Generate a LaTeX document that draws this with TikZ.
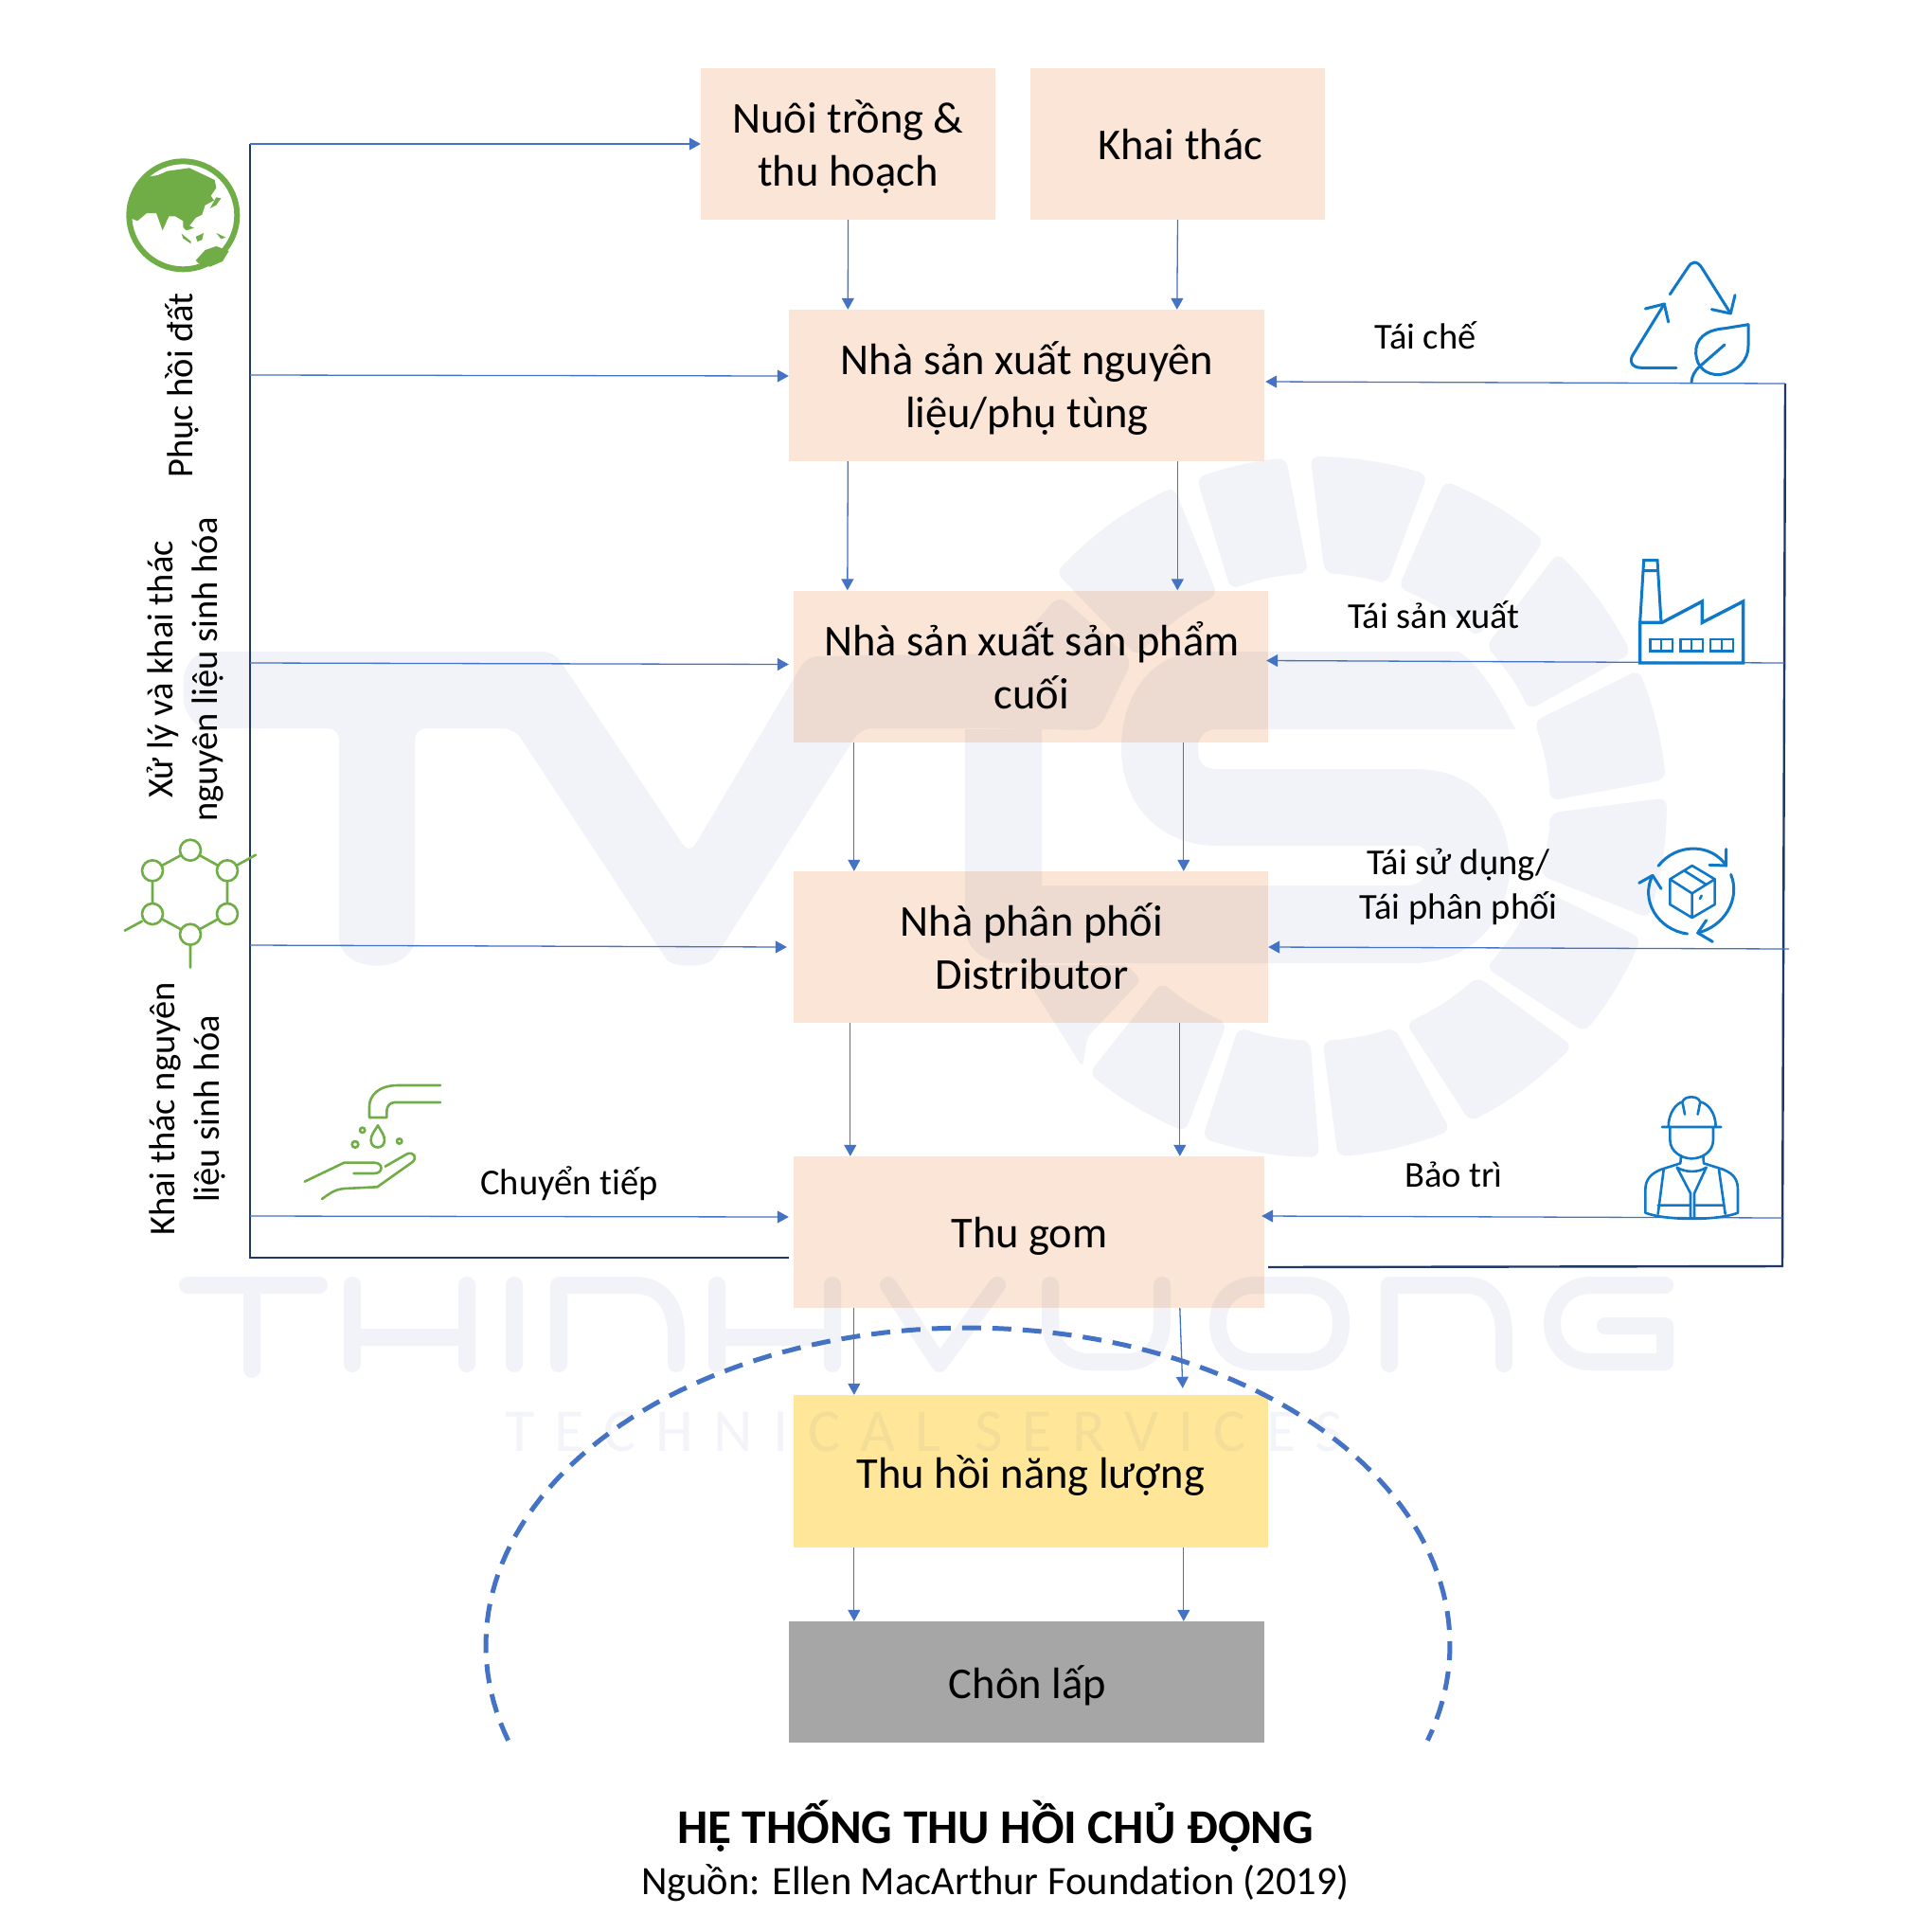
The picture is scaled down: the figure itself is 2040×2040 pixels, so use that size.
\documentclass[tikz,border=0pt]{standalone}
\usepackage{fontspec}
\setmainfont[Ligatures=NoCommon]{Carlito}
\newfontfamily\wmfont[LetterSpace=33,Ligatures=NoCommon]{Carlito}
\usetikzlibrary{arrows.meta,calc}
\definecolor{peach}{HTML}{FBE5D6}
\definecolor{sun}{HTML}{FFE699}
\definecolor{ash}{HTML}{A6A6A6}
\definecolor{flowblue}{HTML}{4472C4}
\definecolor{navy}{HTML}{1F3864}
\definecolor{leaf}{HTML}{70AD47}
\definecolor{iconblue}{HTML}{0F78C8}
\definecolor{wm}{RGB}{22,55,138}
\tikzset{
  x=1pt,y=-1pt,
  stagebox/.style={draw=none,fill=peach,inner sep=0pt},
  stagetext/.style={inner sep=0pt,align=center,font=\fontsize{46.5}{56}\selectfont},
  note/.style={inner sep=0pt,align=center,font=\fontsize{38.5}{47}\selectfont},
  flow/.style={draw=flowblue,line width=1.3pt,-{Triangle[length=12pt,width=13pt]}},
  rim/.style={draw=navy,line width=2.4pt,line join=miter},
  wmfill/.style={fill=wm,fill opacity=.06,rounded corners=12pt},
  wmline/.style={draw=wm,draw opacity=.06,line width=18pt,line cap=round,line join=round},
  greenicon/.style={draw=leaf,line width=2.6pt,line cap=round,line join=round},
  blueicon/.style={draw=iconblue,line width=3pt,line cap=round,line join=round},
  zoomA/.style={shift={(100,140)},x=.33333pt,y=-.33333pt},
  zoomB/.style={shift={(100,860)},x=.33333pt,y=-.33333pt},
  zoomC/.style={shift={(1680,250)},x=.33333pt,y=-.33333pt},
  zoomD/.style={shift={(1680,860)},x=.33333pt,y=-.33333pt},
}
% ring blade: inner angles #1,#2 and outer angles #3,#4, clockwise on the page
\newcommand\ringblade[4]{\fill[wm,fill opacity=.06,rounded corners=9pt]
  plot[domain=#1:#2,samples=7] ({1390+247*cos(\x)},{852+247*sin(\x)})
  -- plot[domain=#4:#3,samples=7] ({1390+370*cos(\x)},{852+370*sin(\x)}) -- cycle;}
\begin{document}
\begin{tikzpicture}
\useasboundingbox (0,0) rectangle (2040,2040);
\fill[white] (0,0) rectangle (2040,2040);

% boxes
\node[stagebox,minimum width=311pt,minimum height=160pt] (nuoi) at (895.5,152) {};
\node[stagebox,minimum width=311pt,minimum height=160pt] (khai) at (1243.5,152) {};
\node[stagebox,minimum width=502pt,minimum height=160pt] (nl) at (1084,407) {};
\node[stagebox,minimum width=501pt,minimum height=160pt] (sp) at (1088.5,703.5) {};
\node[stagebox,minimum width=501pt,minimum height=160pt] (pp) at (1088.5,1000) {};
\node[stagebox,minimum width=497pt,minimum height=160pt] (thu) at (1086.5,1301) {};
\node[stagebox,fill=sun,minimum width=501pt,minimum height=161pt] (nang) at (1088.5,1553.5) {};
\node[stagebox,fill=ash,minimum width=502pt,minimum height=128pt] (chon) at (1084,1776) {};

% watermark: T V T
\fill[wmfill] (232,769) .. controls (205,769) and (194,750) .. (194,728) .. controls (194,705) and (205,688) .. (232,688)
  -- (585,688) -- (728,902) -- (852,693) -- (1066,690)
  -- (1118,628) -- (1196,697) -- (1160,771) -- (1019,769)
  -- (909,769) -- (760,1003) .. controls (746,1022) and (710,1022) .. (697,1003) -- (543,769) -- (438,769)
  -- (438,977) .. controls (438,1030) and (358,1030) .. (358,977) -- (358,769) -- cycle;
% watermark: S and L
\fill[wm,fill opacity=.06] (1019,770) -- (1019,975) .. controls (1019,1005) and (1040,1017) .. (1070,1017)
  -- (1490,1017) .. controls (1560,1017) and (1594,965) .. (1594,915)
  .. controls (1594,860) and (1560,812) .. (1495,812) -- (1285,812)
  .. controls (1270,812) and (1265,805) .. (1265,790) .. controls (1265,778) and (1272,770) .. (1285,770)
  -- (1600,770) .. controls (1580,730) and (1560,700) .. (1540,688) -- (1270,688)
  .. controls (1215,688) and (1184,735) .. (1184,790) .. controls (1184,850) and (1225,893) .. (1285,893)
  -- (1495,893) .. controls (1510,893) and (1512,915) .. (1505,925) .. controls (1500,932) and (1495,935) .. (1480,935)
  -- (1100,935) -- (1100,770) -- cycle;
% watermark: ring of blades
\ringblade{-140}{-115}{-138}{-114}
\ringblade{-111.5}{-92}{-110}{-95}
\ringblade{-88}{-72.5}{-91}{-71.5}
\ringblade{-69.5}{-46.5}{-68.5}{-49.5}
\ringblade{-43.5}{-24.5}{-46.5}{-26}
\ringblade{-21.5}{-1.5}{-23}{-4.5}
\ringblade{1.5}{17}{-1.5}{18.5}
\ringblade{20}{43.5}{22}{40}
\ringblade{46.5}{67.5}{43}{64}
\ringblade{70.5}{88.5}{67.5}{86.5}
\ringblade{91.5}{109.5}{89.5}{109}
\ringblade{112.5}{131.5}{112}{130.5}
\fill[wmfill,rounded corners=6pt] (1075,1019) -- (1143,1127) -- (1148,1095) -- (1205,1035) -- (1190,1019) -- cycle;
% watermark: wordmark strokes
\draw[wmline] (198,1357) -- (337,1357) (266,1357) -- (266,1446)
  (372,1357) -- (372,1440) (493,1357) -- (493,1440) (372,1412) -- (493,1412)
  (543,1357) -- (543,1440)
  (590,1440) -- (590,1357) -- (670,1357) .. controls (700,1357) and (714,1380) .. (714,1410) -- (714,1440)
  (757,1357) -- (757,1440) (879,1357) -- (879,1440) (757,1412) -- (879,1412)
  (938,1357) -- (992,1440) -- (1053,1357)
  (1109,1357) -- (1109,1395) .. controls (1109,1425) and (1130,1438) .. (1150,1438) -- (1190,1438) .. controls (1210,1438) and (1227,1425) .. (1227,1395) -- (1227,1357)
  (1286,1397) .. controls (1286,1370) and (1305,1357) .. (1325,1357) -- (1377,1357) .. controls (1400,1357) and (1416,1370) .. (1416,1397) .. controls (1416,1425) and (1400,1438) .. (1377,1438) -- (1325,1438) .. controls (1305,1438) and (1286,1425) .. (1286,1397)
  (1467,1440) -- (1467,1357) -- (1548,1357) .. controls (1575,1357) and (1588,1380) .. (1588,1410) -- (1588,1440)
  (1758,1357) -- (1680,1357) .. controls (1655,1357) and (1639,1375) .. (1639,1397) .. controls (1639,1420) and (1655,1438) .. (1680,1438) -- (1758,1438) -- (1758,1400) -- (1695,1400);
\node[text=wm,text opacity=.05,inner sep=0pt,font=\fontsize{64}{64}\wmfont] (wmtag) at (976,1512) {TECHNICAL SERVICES};

% box texts
\node[stagetext] (tnuoi) at (895.5,155) {Nuôi trồng \&\\thu hoạch};
\node[stagetext] (tkhai) at (1246,152.5) {Khai thác};
\node[stagetext] (tnl) at (1084.5,410.5) {Nhà sản xuất nguyên\\liệu/phụ tùng};
\node[stagetext] (tsp) at (1089.5,703) {Nhà sản xuất sản phẩm\\cuối};
\node[stagetext] (tpp) at (1089.5,999) {Nhà phân phối\\Distributor};
\node[stagetext] (tthu) at (1087,1305) {Thu gom};
\node[stagetext] (tnang) at (1088.5,1558) {Thu hồi năng lượng};
\node[stagetext] (tchon) at (1085,1780) {Chôn lấp};

% dashed arc
\draw[flowblue,line width=5pt,dash pattern=on 20pt off 12pt] plot[domain=197.5:-17.5,samples=120] ({1022+509*cos(\x)},{1737-335*sin(\x)});

% frame
\coordinate (ftl) at (264,152);
\coordinate (fml1) at (264,396);
\coordinate (fml2) at (264,700);
\coordinate (fml3) at (264,998);
\coordinate (fml4) at (264,1284);
\coordinate (fbl) at (264,1328);
\coordinate (ftr) at (1885,405);
\coordinate (fmr2) at (1884,700);
\coordinate (fmr3) at (1889,1002);
\coordinate (fmr4) at (1882,1286);
\coordinate (fbr) at (1882,1337);
\draw[rim] (ftl) -- (fbl) -- ($(thu.west)+(-5,27)$);
\draw[rim] (ftr) -- (fbr) -- ($(thu.east)+(4,37)$);

% left feeds
\draw[flow] (ftl) -- (nuoi.west);
\draw[flow] (fml1) -- ($(nl.west)+(0,-10)$);
\draw[flow] (fml2) -- ($(sp.west)+(-5,-2)$);
\draw[flow] (fml3) -- ($(pp.west)+(-7,0)$);
\draw[flow] (fml4) -- ($(thu.west)+(-5,-16)$);
% right feeds
\draw[flow] (ftr) -- ($(nl.east)+(1,-4)$);
\draw[flow] (fmr2) -- ($(sp.east)+(-2,-6)$);
\draw[flow] (fmr3) -- (pp.east);
\draw[flow] (fmr4) -- ($(thu.east)+(-3,-17)$);
% downward
\draw[flow] (nuoi.south) -- ($(nl.north west)+(62.5,0)$);
\draw[flow] ($(khai.south)+(0,0)$) -- ($(nl.north west)+(410,0)$);
\draw[flow] ($(nl.south west)+(62.5,0)$) -- ($(sp.north west)+(57,0)$);
\draw[flow] ($(nl.south west)+(410.5,0)$) -- ($(sp.north west)+(405.5,0)$);
\draw[flow] ($(sp.south west)+(64,0)$) -- ($(pp.north west)+(64,0)$);
\draw[flow] ($(sp.south west)+(412,0)$) -- ($(pp.north west)+(412,0)$);
\draw[flow] ($(pp.south west)+(60,0)$) -- ($(thu.north west)+(60,0)$);
\draw[flow] ($(pp.south west)+(408,0)$) -- ($(thu.north west)+(408,0)$);
\draw[flow] ($(thu.south west)+(64,0)$) -- ($(nang.north west)+(64,0)$);
\draw[flow] ($(thu.south west)+(408,0)$) -- ($(nang.north west)+(411,-7)$);
\draw[flow] ($(nang.south west)+(64,0)$) -- ($(chon.north west)+(69,0)$);
\draw[flow] ($(nang.south west)+(412,0)$) -- ($(chon.north west)+(417,0)$);

% labels
\node[note,rotate=90] (lphuc) at (192,407) {Phục hồi đất};
\node[note,rotate=90] (lxu) at (196,707) {Xử lý và khai thác\\nguyên liệu sinh hóa};
\node[note,rotate=90] (lkt) at (198,1171) {Khai thác nguyên\\liệu sinh hóa};
\node[note] (lchuyen) at (601,1249.5) {Chuyển tiếp};
\node[note] (ltc) at (1505,354.5) {Tái chế};
\node[note] (ltsx) at (1514,649.5) {Tái sản xuất};
\node[note] (ltsd) at (1540,936.5) {Tái sử dụng/\\Tái phân phối};
\node[note] (lbt) at (1535,1240.5) {Bảo trì};
\node[inner sep=0pt,font=\fontsize{51.2}{51.2}\bfseries\selectfont] (title) at (1051,1928) {HỆ THỐNG THU HỒI CHỦ ĐỘNG};
\node[inner sep=0pt,font=\fontsize{42.5}{42.5}\selectfont] (source) at (1051,1988.5) {Nguồn: Ellen MacArthur Foundation (2019)};

% globe
\begin{scope}[zoomA]
\draw[leaf,line width=6pt] (280,262) circle[radius=171];
\fill[leaf] (200,135) -- (230,122) -- (300,112) -- (380,150) -- (385,175) -- (368,200) -- (378,215) -- (350,230) -- (340,260) -- (320,270) -- (300,295) -- (315,302) -- (290,310) -- (280,300) -- (280,280) -- (255,265) -- (235,265) -- (215,310) -- (195,255) -- (165,255) -- (135,280) -- (112,270) -- (105,235) -- (130,170) -- (170,140) -- cycle;
\fill[leaf] (275,320) -- (305,345) -- (305,352) -- (280,335) -- cycle;
\fill[leaf] (320,330) -- (345,318) -- (340,340) -- (325,345) -- cycle;
\fill[leaf] (385,318) -- (415,332) -- (400,337) -- cycle;
\fill[leaf] (320,405) -- (350,372) -- (385,360) -- (425,375) -- (405,408) -- (365,425) -- (330,415) -- cycle;
\fill[leaf] (385,205) -- (400,208) -- (385,230) -- (365,240) -- cycle;
\end{scope}
% molecule
\begin{scope}[zoomB]
\draw[greenicon] (303,113) -- (420,178) -- (420,315) -- (303,380) -- (183,315) -- (183,178) -- cycle
  (452,160) -- (510,128) (150,338) -- (95,368) (303,413) -- (303,485);
\foreach \p in {(303,113),(420,178),(420,315),(303,380),(183,315),(183,178)}
  \draw[greenicon,fill=white] \p circle[radius=33];
% hand and tap
\draw[greenicon] (1095,858) -- (960,858) .. controls (900,858) and (870,890) .. (870,925) -- (870,960) -- (925,960) -- (925,940) .. controls (925,925) and (935,912) .. (950,912) -- (1095,912);
\draw[greenicon] (897,985) .. controls (885,1005) and (875,1015) .. (875,1032) .. controls (875,1062) and (918,1062) .. (918,1032) .. controls (918,1015) and (908,1005) .. (897,985) -- cycle;
\draw[greenicon] (848,1000) circle[radius=8] (825,1045) circle[radius=10] (965,1035) circle[radius=8];
\draw[greenicon] (665,1163) -- (790,1103) -- (885,1103) .. controls (915,1103) and (915,1137) .. (885,1137) -- (820,1137);
\draw[greenicon] (920,1115) -- (990,1075) .. controls (1010,1068) and (1022,1085) .. (1008,1100) -- (895,1180) -- (790,1185) .. controls (760,1188) and (745,1200) .. (720,1218);
\end{scope}
% recycling and factory
\begin{scope}[zoomC]
\draw[blueicon] (250,182) -- (305,100) .. controls (320,75) and (335,75) .. (350,97) -- (442,243);
\draw[blueicon] (382,230) -- (442,243) -- (456,185);
\draw[blueicon] (270,415) -- (160,415) .. controls (125,415) and (120,390) .. (135,370) -- (232,213);
\draw[blueicon] (172,228) -- (232,213) -- (245,270);
\draw[blueicon] (498,278) -- (425,290) .. controls (360,295) and (330,325) .. (332,370) .. controls (335,415) and (365,437) .. (405,437) .. controls (460,430) and (498,395) .. (498,345) -- cycle;
\draw[blueicon] (423,342) -- (345,410) .. controls (328,425) and (320,440) .. (318,460);
\draw[blueicon,line width=3.4pt,line join=miter] (155,1350) -- (482,1350) -- (482,1155) -- (352,1222) -- (352,1155) -- (225,1222) -- (155,1222) -- cycle;
\draw[blueicon,line join=miter] (155,1222) -- (167,1025) -- (210,1025) -- (222,1222) (165,1058) -- (212,1058);
\draw[blueicon,line width=2.6pt,line join=miter] (187,1275) rectangle (258,1313) (222,1275) -- (222,1313)
  (283,1275) rectangle (354,1313) (318,1275) -- (318,1313)
  (378,1275) rectangle (450,1313) (414,1275) -- (414,1313);
\end{scope}
% reuse box and worker
\begin{scope}[zoomD]
\draw[blueicon] (213,163) .. controls (270,90) and (380,90) .. (428,162);
\draw[blueicon] (375,160) -- (428,162) -- (428,110);
\draw[blueicon] (443,190) .. controls (475,270) and (420,355) .. (338,375);
\draw[blueicon] (385,403) -- (338,375) -- (365,335);
\draw[blueicon] (305,378) .. controls (210,365) and (155,270) .. (195,193);
\draw[blueicon] (152,217) -- (195,193) -- (222,235);
\draw[blueicon,line width=2.6pt] (320,162) -- (392,205) -- (392,285) -- (320,327) -- (250,285) -- (250,205) -- cycle
  (250,205) -- (320,250) -- (392,205) (320,250) -- (320,327) (295,178) -- (365,222) (345,267) -- (350,257);
\draw[blueicon,line width=2.6pt] (225,990) -- (412,990)
  (245,990) .. controls (245,945) and (270,915) .. (290,910) .. controls (295,890) and (340,890) .. (345,910) .. controls (370,915) and (395,945) .. (395,990)
  (290,915) -- (297,950) (345,915) -- (338,950)
  (250,990) -- (250,1030) .. controls (250,1070) and (290,1090) .. (318,1090) .. controls (350,1090) and (387,1070) .. (387,1030) -- (387,990)
  (285,1080) -- (283,1105) -- (220,1125) .. controls (185,1140) and (172,1160) .. (172,1190) -- (172,1262)
  (355,1080) -- (357,1105) -- (420,1125) .. controls (455,1140) and (465,1160) .. (465,1190) -- (465,1262)
  (172,1262) .. controls (240,1287) and (400,1287) .. (465,1262)
  (272,1118) .. controls (300,1135) and (340,1135) .. (365,1118)
  (272,1118) -- (315,1200) -- (315,1280) (365,1118) -- (327,1200) -- (327,1280)
  (230,1125) -- (212,1265) (405,1125) -- (425,1265)
  (212,1238) -- (315,1238) (327,1238) -- (420,1238);
\end{scope}
\end{tikzpicture}
\end{document}
